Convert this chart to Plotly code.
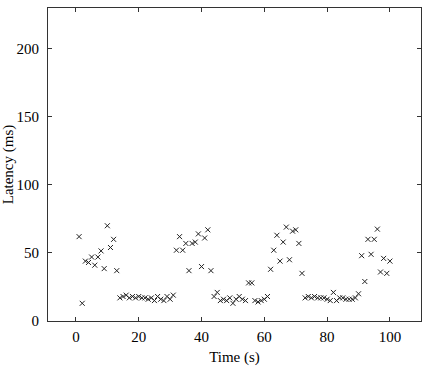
import plotly.graph_objects as go

time_s = list(range(1, 101))
latency_ms = [
    62, 13, 44, 43, 47, 41, 47, 51.5, 38.5, 70,
    54, 60, 37, 17, 18, 19, 17, 18, 17, 18,
    17, 17, 16, 17, 15, 18, 16, 15, 18, 16,
    19, 52, 62, 52, 57, 37, 57, 58, 64, 40,
    61, 67, 37, 18, 21, 15, 16, 15, 17, 13,
    16, 18, 16, 15, 28, 28, 15, 14, 15, 16,
    18, 38, 52, 63, 44, 58, 69, 45, 66, 67,
    57, 35, 17, 18, 17, 18, 17, 17, 17, 16,
    15, 21, 15, 17, 17, 16, 16, 16, 17, 20,
    48, 29, 60, 49, 60, 67.5, 36, 46, 35, 44,
]
x_ticks = [0, 20, 40, 60, 80, 100]
y_ticks = [0, 50, 100, 150, 200]

font = dict(family="Liberation Serif, DejaVu Serif, serif", size=15, color="#000")

fig = go.Figure()
fig.add_trace(go.Scatter(
    x=time_s, y=latency_ms, mode="markers",
    marker=dict(symbol="x-thin", size=5, line=dict(width=1, color="#222"), color="#222"),
    showlegend=False,
))

axis_common = dict(
    showgrid=False, zeroline=False, showline=True, linecolor="#333", linewidth=1,
    mirror="ticks", ticks="inside", ticklen=4, tickcolor="#333", tickwidth=1,
    tickfont=font, automargin=False,
)
fig.update_layout(
    width=426, height=366,
    margin=dict(l=48, r=5, t=8, b=45),
    paper_bgcolor="white", plot_bgcolor="white",
    font=font,
    xaxis=dict(range=[-8.9, 109.9], tickvals=x_ticks, ticklabelstandoff=2,
               title=dict(text="Time (s)", font=font, standoff=10), **axis_common),
    yaxis=dict(range=[0, 230], tickvals=y_ticks, ticklabelstandoff=5,
               title=dict(text="Latency (ms)", font=font, standoff=6), **axis_common),
)
fig.write_html("out.html")
